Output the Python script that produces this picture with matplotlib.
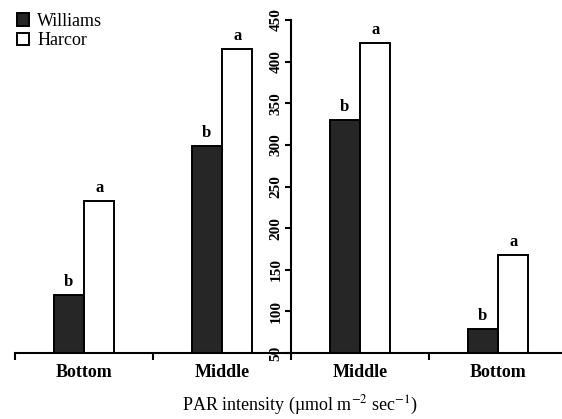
import matplotlib.pyplot as plt
import numpy as np

categories = ["Bottom", "Middle", "Middle", "Bottom"]
williams = [120, 299, 330, 79]
harcor = [232, 415, 422, 168]
williams_letters = ["b", "b", "b", "b"]
harcor_letters = ["a", "a", "a", "a"]
yticks = [50, 100, 150, 200, 250, 300, 350, 400, 450]

plt.rcParams['font.family'] = ['Liberation Serif', 'DejaVu Serif']
plt.rcParams['mathtext.fontset'] = 'stix'

W, H = 562, 419
fig = plt.figure(figsize=(W / 100, H / 100), dpi=100)
ax = fig.add_axes([15 / W, (H - 353) / H, 552 / W, 333 / H])

x = np.arange(len(categories))
w = 0.22
ax.bar(x - w / 2, williams, w, color="#262626", edgecolor="black",
       linewidth=1.4, label="Williams")
ax.bar(x + w / 2, harcor, w, color="white", edgecolor="black",
       linewidth=1.4, label="Harcor")

for i in range(len(categories)):
    ax.text(x[i] - w / 2, williams[i] + 6, williams_letters[i], ha="center",
            va="bottom", fontsize=12, fontweight="bold")
    ax.text(x[i] + w / 2, harcor[i] + 6, harcor_letters[i], ha="center",
            va="bottom", fontsize=12, fontweight="bold")

ax.set_xlim(-0.5, 3.5)
ax.set_ylim(50, 450)

ax.spines['top'].set_visible(False)
ax.spines['right'].set_visible(False)
ax.spines['left'].set_position(('data', 1.5))
ax.spines['left'].set_linewidth(1.5)
ax.spines['bottom'].set_linewidth(1.5)

ax.set_yticks(yticks)
ax.set_yticklabels([str(t) for t in yticks], rotation=90, va="center",
                   fontsize=11, fontweight="bold")
ax.tick_params(axis="y", direction="out", length=4, width=1.5, pad=2)

ax.set_xticks(x)
ax.set_xticklabels(categories, fontsize=13, fontweight="bold")
ax.tick_params(axis="x", which="major", length=0, pad=8)
ax.set_xticks(np.arange(-0.5, 4, 1), minor=True)
ax.tick_params(axis="x", which="minor", direction="out", length=5, width=1.5)

fig.text(300 / W, (H - 405) / H,
         "PAR intensity (\u00b5mol m$^{-2}$ sec$^{-1}$)",
         ha="center", va="center", fontsize=13)

ax.legend(loc="upper left", bbox_to_anchor=(4 / W, 1.0), bbox_transform=fig.transFigure,
          frameon=False, fontsize=13, handlelength=0.7, handleheight=0.7,
          handletextpad=0.45, labelspacing=0.15, borderaxespad=0.3)

fig.savefig("out.png", dpi=100)
